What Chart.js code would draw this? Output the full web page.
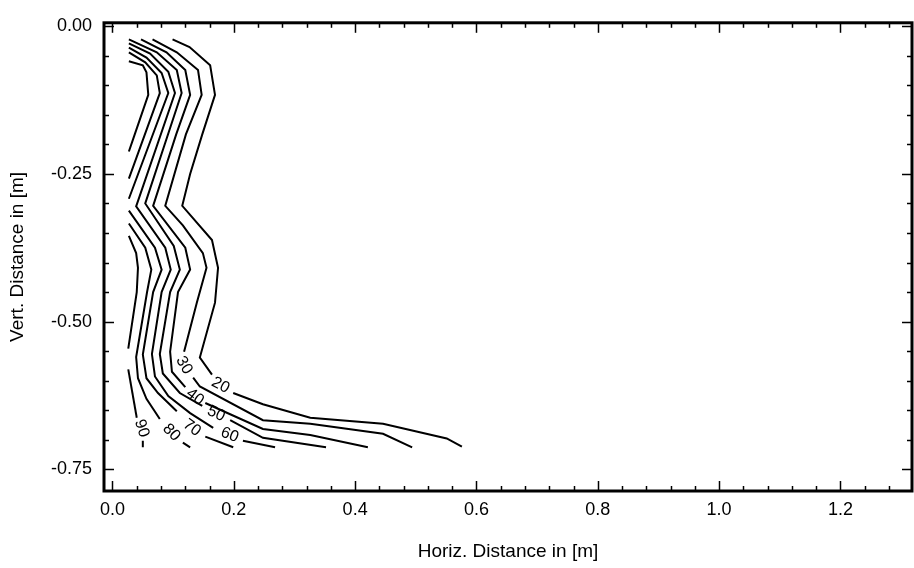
<!DOCTYPE html>
<html>
<head>
<meta charset="utf-8">
<script src="https://cdn.jsdelivr.net/npm/chart.js@4.4.1/dist/chart.umd.min.js"></script>
<style>
  html, body { margin: 0; padding: 0; background: #fff; }
  #wrap { width: 914px; height: 568px; }
</style>
</head>
<body>
<div id="wrap"><canvas id="c" width="914" height="568"></canvas></div>
<script>
// ---- DATA (x = horizontal distance [m], y = vertical distance [m]) ----
const xTickValues = [0.0, 0.2, 0.4, 0.6, 0.8, 1.0, 1.2];
const yTickValues = [0.00, -0.25, -0.50, -0.75];
const contourLevels = [20, 30, 40, 50, 60, 70, 80, 90];

const c20 = [
  [[0.099,-0.022],[0.127,-0.035],[0.161,-0.066],[0.169,-0.116],[0.148,-0.183],[0.128,-0.250],
   [0.115,-0.304],[0.164,-0.362],[0.174,-0.409],[0.169,-0.468],[0.144,-0.561],[0.164,-0.590]],
  [[0.199,-0.621],[0.248,-0.640],[0.326,-0.663],[0.446,-0.673],[0.551,-0.698],[0.576,-0.712]]
];
const c30 = [
  [[0.066,-0.022],[0.106,-0.044],[0.141,-0.074],[0.147,-0.116],[0.121,-0.183],[0.087,-0.304],
   [0.116,-0.337],[0.149,-0.384],[0.155,-0.409],[0.139,-0.468],[0.118,-0.551]],
  [[0.133,-0.595],[0.144,-0.610],[0.248,-0.667],[0.326,-0.673],[0.446,-0.690],[0.494,-0.713]]
];
const c40 = [
  [[0.047,-0.022],[0.089,-0.044],[0.120,-0.074],[0.128,-0.116],[0.105,-0.183],[0.067,-0.304],
   [0.120,-0.375],[0.128,-0.412],[0.108,-0.450],[0.095,-0.551],[0.098,-0.585],[0.120,-0.611]],
  [[0.153,-0.638],[0.194,-0.657],[0.248,-0.682],[0.326,-0.692],[0.421,-0.713]]
];
const c50 = [
  [[0.027,-0.022],[0.073,-0.044],[0.106,-0.074],[0.114,-0.113],[0.054,-0.300],[0.101,-0.372],
   [0.111,-0.412],[0.095,-0.450],[0.078,-0.555],[0.083,-0.588],[0.111,-0.621],[0.148,-0.643]],
  [[0.194,-0.667],[0.248,-0.697],[0.352,-0.713]]
];
const c60 = [
  [[0.027,-0.029],[0.062,-0.046],[0.092,-0.077],[0.103,-0.113],[0.039,-0.305],[0.087,-0.375],
   [0.096,-0.412],[0.081,-0.450],[0.065,-0.555],[0.070,-0.593],[0.092,-0.626],[0.128,-0.655],
   [0.166,-0.680]],
  [[0.215,-0.702],[0.268,-0.713]]
];
const c70 = [
  [[0.027,-0.036],[0.056,-0.053],[0.081,-0.079],[0.092,-0.113],[0.027,-0.292]],
  [[0.027,-0.312],[0.070,-0.375],[0.081,-0.412],[0.067,-0.450],[0.050,-0.556],[0.056,-0.596],
   [0.075,-0.621],[0.106,-0.652]],
  [[0.153,-0.695],[0.199,-0.713]]
];
const c80 = [
  [[0.027,-0.044],[0.054,-0.061],[0.073,-0.083],[0.078,-0.113],[0.027,-0.258]],
  [[0.027,-0.334],[0.054,-0.375],[0.064,-0.412],[0.057,-0.450],[0.039,-0.560],[0.042,-0.596],
   [0.056,-0.631],[0.078,-0.665]],
  [[0.116,-0.705],[0.128,-0.713]]
];
const c90 = [
  [[0.027,-0.059],[0.050,-0.066],[0.056,-0.078],[0.059,-0.116],[0.034,-0.191],[0.027,-0.212]],
  [[0.027,-0.355],[0.039,-0.384],[0.042,-0.409],[0.040,-0.450],[0.026,-0.546]],
  [[0.026,-0.581],[0.040,-0.663]],
  [[0.050,-0.702],[0.050,-0.713]]
];
const contourLines = [c20, c30, c40, c50, c60, c70, c80, c90];

// contour label anchor points (data units)
const labelX = [0.178, 0.118, 0.136, 0.171, 0.193, 0.131, 0.097, 0.048];
const labelY = [-0.608, -0.574, -0.628, -0.656, -0.692, -0.680, -0.688, -0.681];

// ---- STYLE ----
const labelAngle = [28, 60, 38, 25, 22, 36, 46, 72];
const FONT = '"Liberation Sans", Arial, Helvetica, sans-serif';

const datasets = [];
contourLines.forEach((pieces, i) => {
  pieces.forEach(seg => {
    datasets.push({
      label: String(contourLevels[i]),
      data: seg.map(p => ({x: p[0], y: p[1]})),
      showLine: true,
      borderColor: '#000',
      borderWidth: 2,
      pointRadius: 0,
      pointHoverRadius: 0,
      fill: false,
      tension: 0
    });
  });
});

const frameTicks = {
  id: 'frameTicks',
  afterDatasetsDraw(chart) {
    const {ctx, chartArea: a, scales: {x, y}} = chart;
    ctx.save();
    ctx.strokeStyle = '#000';
    ctx.lineCap = 'butt';
    const seg = (x1, y1, x2, y2) => { ctx.beginPath(); ctx.moveTo(x1, y1); ctx.lineTo(x2, y2); ctx.stroke(); };
    ctx.lineWidth = 1.5;
    // x ticks: major every 0.2, minor every 0.04
    for (let k = 0; k <= 33; k++) {
      const v = k * 0.04;
      if (v > x.max) break;
      const major = k % 5 === 0;
      const L = major ? 10 : 5;
      const px = Math.round(x.getPixelForValue(v)) + 0.5;
      seg(px, a.bottom, px, a.bottom - L);
      seg(px, a.top, px, a.top + L);
    }
    // y ticks: major every 0.25, minor every 0.05
    for (let k = 0; k <= 15; k++) {
      const v = -k * 0.05;
      if (v < y.min) break;
      const major = k % 5 === 0;
      const L = major ? 10 : 5;
      const py = Math.round(y.getPixelForValue(v)) + 0.5;
      seg(a.left, py, a.left + L, py);
      seg(a.right, py, a.right - L, py);
    }
    // frame
    ctx.lineWidth = 3;
    ctx.strokeRect(a.left, a.top, a.right - a.left, a.bottom - a.top);
    // contour labels
    ctx.fillStyle = '#000';
    ctx.font = '16px ' + FONT;
    ctx.textAlign = 'center';
    ctx.textBaseline = 'middle';
    contourLevels.forEach((lv, i) => {
      ctx.save();
      ctx.translate(x.getPixelForValue(labelX[i]), y.getPixelForValue(labelY[i]));
      ctx.rotate(labelAngle[i] * Math.PI / 180);
      ctx.fillText(String(lv), 0, 0);
      ctx.restore();
    });
    ctx.restore();
  }
};

new Chart(document.getElementById('c'), {
  type: 'scatter',
  data: { datasets },
  options: {
    responsive: false,
    animation: false,
    devicePixelRatio: 1,
    layout: { padding: { top: 17, right: 2, left: 0, bottom: 0 } },
    plugins: { legend: { display: false }, tooltip: { enabled: false } },
    events: [],
    scales: {
      x: {
        type: 'linear',
        min: -0.014,
        max: 1.318,
        afterBuildTicks: s => { s.ticks = xTickValues.map(v => ({value: v})); },
        afterFit: s => { s.height = 77; },
        grid: { display: false, drawTicks: false },
        border: { display: false },
        ticks: {
          color: '#000',
          font: { family: FONT, size: 18 },
          padding: 8,
          maxRotation: 0,
          autoSkip: false,
          callback: v => v.toFixed(1)
        },
        title: {
          display: true,
          text: 'Horiz. Distance in [m]',
          color: '#000',
          font: { family: FONT, size: 19 },
          padding: { top: 0, bottom: 5 }
        }
      },
      y: {
        type: 'linear',
        min: -0.787,
        max: 0.006,
        afterBuildTicks: s => { s.ticks = yTickValues.map(v => ({value: v})); },
        afterFit: s => { s.width = 104; },
        grid: { display: false, drawTicks: false },
        border: { display: false },
        ticks: {
          color: '#000',
          font: { family: FONT, size: 18 },
          padding: 12,
          autoSkip: false,
          callback: v => v.toFixed(2)
        },
        title: {
          display: true,
          text: 'Vert. Distance in [m]',
          color: '#000',
          font: { family: FONT, size: 19 },
          padding: { top: 6, bottom: 0 }
        }
      }
    }
  },
  plugins: [frameTicks]
});
</script>
</body>
</html>
